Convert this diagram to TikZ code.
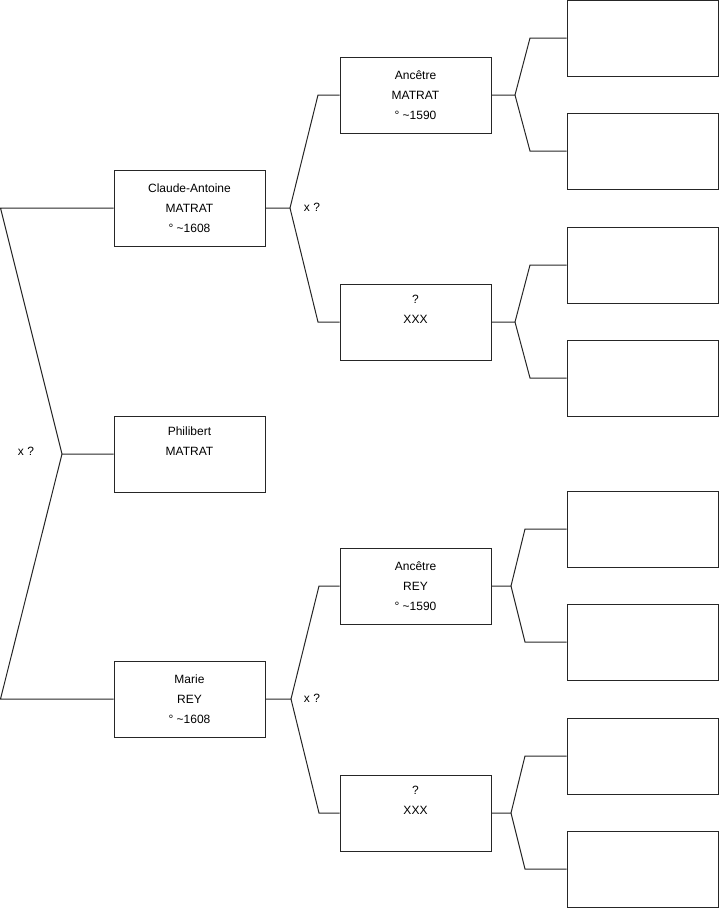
\documentclass[tikz,border=0pt]{standalone}
\usepackage{fontspec}
\setmainfont{Liberation Sans}
\begin{document}
\begin{tikzpicture}[x=0.75pt,y=-0.75pt,
  box/.style={draw=black!85,line width=0.75pt,minimum width=113.25pt,minimum height=57pt,inner sep=0pt,align=center,font=\fontsize{9}{15}\selectfont},
  conn/.style={draw=black!85,line width=0.75pt},
  lbl/.style={font=\fontsize{9}{11}\selectfont,inner sep=0pt}]
\useasboundingbox (0,0) rectangle (719,908);
% generation 1
\node[box] (ph) at (189.5,454) {\raisebox{-2pt}{\parbox{113pt}{\centering Philibert\\MATRAT\\\strut}}};
% generation 2
\node[box] (ca) at (189.5,208) {Claude-Antoine\\MATRAT\\° \textasciitilde1608};
\node[box] (ma) at (189.5,699) {Marie\\REY\\° \textasciitilde1608};
% generation 3
\node[box] (am) at (415.5,95) {Ancêtre\\MATRAT\\° \textasciitilde1590};
\node[box] (x1) at (415.5,322) {?\\XXX\\\strut};
\node[box] (ar) at (415.5,586) {Ancêtre\\REY\\° \textasciitilde1590};
\node[box] (x2) at (415.5,813) {?\\XXX\\\strut};
% generation 4
\node[box] (e1) at (642.5,38) {};
\node[box] (e2) at (642.5,151) {};
\node[box] (e3) at (642.5,265) {};
\node[box] (e4) at (642.5,378) {};
\node[box] (e5) at (642.5,529) {};
\node[box] (e6) at (642.5,642) {};
\node[box] (e7) at (642.5,756) {};
\node[box] (e8) at (642.5,869) {};
% junctions and kinks
\coordinate (j0) at (62,454);
\coordinate (k0a) at (0.5,208);
\coordinate (k0b) at (0.5,699);
\coordinate (j1) at (290,208);
\coordinate (k1a) at (318,95);
\coordinate (k1b) at (318,322);
\coordinate (j2) at (291,699);
\coordinate (k2a) at (319,586);
\coordinate (k2b) at (319,813);
\coordinate (j3) at (515,95);
\coordinate (k3a) at (530,38);
\coordinate (k3b) at (530,151);
\coordinate (j4) at (515,322);
\coordinate (k4a) at (530,265);
\coordinate (k4b) at (530,378);
\coordinate (j5) at (511,586);
\coordinate (k5a) at (525,529);
\coordinate (k5b) at (525,642);
\coordinate (j6) at (511,813);
\coordinate (k6a) at (525,756);
\coordinate (k6b) at (525,869);
% connectors
\draw[conn] (ph.west) -- (j0) -- (k0a) -- (ca.west);
\draw[conn] (j0) -- (k0b) -- (ma.west);
\draw[conn] (ca.east) -- (j1) -- (k1a) -- (am.west);
\draw[conn] (j1) -- (k1b) -- (x1.west);
\draw[conn] (ma.east) -- (j2) -- (k2a) -- (ar.west);
\draw[conn] (j2) -- (k2b) -- (x2.west);
\draw[conn] (am.east) -- (j3) -- (k3a) -- (e1.west);
\draw[conn] (j3) -- (k3b) -- (e2.west);
\draw[conn] (x1.east) -- (j4) -- (k4a) -- (e3.west);
\draw[conn] (j4) -- (k4b) -- (e4.west);
\draw[conn] (ar.east) -- (j5) -- (k5a) -- (e5.west);
\draw[conn] (j5) -- (k5b) -- (e6.west);
\draw[conn] (x2.east) -- (j6) -- (k6a) -- (e7.west);
\draw[conn] (j6) -- (k6b) -- (e8.west);
% labels
\node[lbl] (l0) at (26,451) {x ?};
\node[lbl] (l1) at (312,207) {x ?};
\node[lbl] (l2) at (312,698) {x ?};
\end{tikzpicture}
\end{document}
